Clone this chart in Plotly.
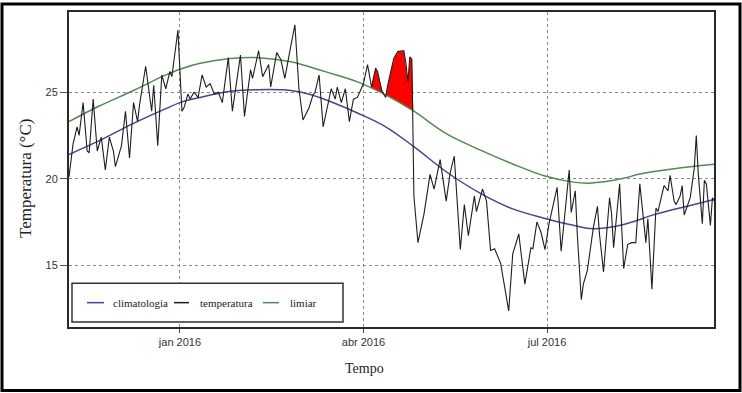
import numpy as np
import pandas as pd
import plotly.graph_objects as go

# ---------------- data (days counted from 2015-11-07) ----------------
inicio = "2015-11-07"

temp_dia = [0, 2, 4, 5, 7, 8, 9, 10, 12, 14, 16, 18, 20, 22, 23, 26, 28, 30, 32, 34,
            35, 38, 41, 42, 44, 46, 48, 50, 51, 54, 56, 57, 59, 60, 62, 64, 66, 68, 70, 72,
            74, 76, 79, 81, 85, 87, 90, 91, 94, 96, 99, 100, 103, 105, 107, 110, 112, 114, 116, 119,
            121, 122, 124, 126, 129, 130, 132, 133, 135, 137, 139, 141, 143, 145, 146, 148, 150, 152, 153, 155,
            157, 158, 161, 163, 166, 167, 168, 169, 170, 171, 173, 176, 179, 181, 184, 187, 189, 191, 194, 196,
            198, 201, 202, 205, 207, 209, 211, 214, 218, 220, 223, 226, 229, 230, 232, 234, 236, 238, 239, 242,
            244, 248, 249, 251, 252, 254, 255, 257, 260, 262, 263, 265, 268, 269, 270, 273, 275, 277, 279, 281,
            283, 286, 287, 289, 291, 292, 295, 297, 298, 300, 301, 303, 304, 305, 308, 310, 311, 312, 314, 315,
            316, 318, 319, 320]
temp_val = [20.1, 22.0, 23.0, 22.5, 24.4, 22.9, 21.6, 21.5, 24.6, 21.6, 22.4, 20.5, 22.4, 21.6, 20.7, 21.9, 23.9, 21.2, 24.4, 23.3,
            24.3, 26.5, 23.9, 25.4, 21.9, 26.0, 25.2, 26.2, 25.9, 28.6, 23.9, 24.1, 24.9, 24.6, 25.0, 24.7, 26.0, 25.3, 25.5, 24.9,
            25.0, 24.4, 27.0, 23.9, 27.15, 23.6, 26.3, 25.8, 27.4, 25.9, 26.6, 25.3, 27.3, 26.9, 25.8, 27.7, 28.9, 25.2, 23.4, 24.1,
            24.85, 25.0, 26.0, 23.0, 24.7, 25.2, 24.6, 25.3, 24.4, 25.2, 23.3, 24.6, 24.7, 25.2, 25.5, 26.6, 25.3, 26.4, 26.2, 25.1,
            24.7, 25.4, 26.95, 27.35, 27.4, 26.7, 25.6, 27.05, 26.9, 19.0, 16.3, 17.95, 20.25, 19.4, 21.1, 18.7, 20.35, 21.3, 15.9, 18.5,
            16.7, 19.0, 18.1, 19.4, 18.7, 15.85, 15.95, 15.1, 12.35, 15.65, 16.8, 13.9, 16.0, 15.95, 17.5, 16.9, 15.9, 17.4, 17.9, 19.5,
            15.8, 20.5, 18.05, 19.3, 16.8, 13.0, 13.9, 14.7, 17.2, 18.4, 16.8, 14.6, 18.9, 17.95, 16.0, 19.7, 14.8, 16.2, 16.3, 16.3,
            19.7, 16.3, 17.7, 13.6, 18.3, 18.1, 19.6, 19.3, 20.2, 18.7, 18.5, 19.0, 19.6, 17.9, 18.9, 20.6, 22.5, 20.25, 17.4, 19.9,
            19.7, 17.3, 18.9, 18.7]

clim_dia = [0, 15, 32, 48, 55, 65, 80, 94, 110, 120, 132, 143, 157, 171, 187, 204, 220, 236, 250, 260, 275, 291, 308, 320]
clim_val = [21.4, 22.2, 23.2, 24.05, 24.4, 24.7, 25.05, 25.15, 25.1, 24.85, 24.35, 23.8, 23.0, 21.85, 20.4, 19.15, 18.25, 17.7,
            17.3, 17.1, 17.35, 17.95, 18.45, 18.8]

limiar_dia = [0, 15, 32, 48, 55, 65, 80, 94, 110, 127, 143, 157, 171, 187, 204, 220, 236, 250, 258, 275, 283, 300, 320]
limiar_val = [23.3, 24.2, 25.1, 26.0, 26.33, 26.67, 26.95, 27.0, 26.76, 26.19, 25.6, 24.85, 23.9, 22.6, 21.65, 20.85, 20.15,
              19.8, 19.74, 20.02, 20.27, 20.57, 20.83]

# heat-wave windows (days from start)
evento_inicio = [150, 157]
evento_fim = [156, 171]

xtick_datas = ["2016-01-01", "2016-04-01", "2016-07-01"]
xtick_rotulos = ["jan 2016", "abr 2016", "jul 2016"]
ytick_vals = [15, 20, 25]

legenda_nomes = ["climatologia", "temperatura", "limiar"]

# ---------------- helpers ----------------
base = pd.Timestamp(inicio)


def to_date(d):
    return base + pd.to_timedelta(np.asarray(d, dtype=float), unit="D")


W, H = 742, 393
L, R, T, B = 69, 714, 10, 327   # plot area in pixels


def px(x):
    return (x - L) / (R - L)


def py(y):
    return (B - y) / (B - T)


COL_CLIM = "#4343a0"
COL_TEMP = "#1e1e1e"
COL_LIM = "#4f8c4f"

fig = go.Figure()

# red fill where temperature exceeds the threshold within the event windows
for a, b in zip(evento_inicio, evento_fim):
    g = np.arange(a, b + 1e-9, 0.02)
    t = np.interp(g, temp_dia, temp_val)
    lim = np.interp(g, limiar_dia, limiar_val)
    up = np.maximum(t, lim)
    xs = np.concatenate([g, g[::-1]])
    ys = np.concatenate([up, lim[::-1]])
    fig.add_trace(go.Scatter(x=to_date(xs), y=ys, mode="lines", fill="toself",
                             fillcolor="#ff0000", line=dict(width=0, color="#ff0000"),
                             hoverinfo="skip", showlegend=False))

fig.add_trace(go.Scatter(x=to_date(clim_dia), y=clim_val, mode="lines", name=legenda_nomes[0],
                         line=dict(color=COL_CLIM, width=1.5, shape="spline", smoothing=1.0),
                         showlegend=False))
fig.add_trace(go.Scatter(x=to_date(limiar_dia), y=limiar_val, mode="lines", name=legenda_nomes[2],
                         line=dict(color=COL_LIM, width=1.5, shape="spline", smoothing=1.0),
                         showlegend=False))
fig.add_trace(go.Scatter(x=to_date(temp_dia), y=temp_val, mode="lines", name=legenda_nomes[1],
                         line=dict(color=COL_TEMP, width=1.1), showlegend=False))

x_end = base + pd.Timedelta(days=(R - L) / 2.017)

fig.update_xaxes(range=[base, x_end], tickvals=pd.to_datetime(xtick_datas), ticktext=xtick_rotulos,
                 showgrid=True, gridcolor="#8a8a8a", griddash="dot", gridwidth=1,
                 showline=True, linecolor="#2a2a2a", linewidth=2, mirror=True,
                 ticks="outside", ticklen=4, tickcolor="#444",
                 tickfont=dict(family="Liberation Sans, Arial", size=11, color="#333"),
                 zeroline=False)
fig.update_yaxes(range=[11.42, 29.64], tickvals=ytick_vals,
                 showgrid=True, gridcolor="#8a8a8a", griddash="dot", gridwidth=1,
                 showline=True, linecolor="#2a2a2a", linewidth=2, mirror=True,
                 ticks="outside", ticklen=7, tickcolor="#555",
                 tickfont=dict(family="Liberation Sans, Arial", size=11, color="#333"),
                 zeroline=False)

shapes = []
annotations = []

# outer frame of the image
shapes.append(dict(type="rect", xref="paper", yref="paper",
                   x0=px(2), x1=px(740), y0=py(391), y1=py(2),
                   line=dict(color="black", width=3), layer="above"))

# legend box
shapes.append(dict(type="rect", xref="paper", yref="paper",
                   x0=px(72), x1=px(343), y0=py(322), y1=py(283),
                   line=dict(color="#333", width=1.5), fillcolor="white", layer="above"))
leg_items = [(87, 104, 111, COL_CLIM), (174, 189, 198, COL_TEMP), (263, 279, 288, COL_LIM)]
for (x0, x1, xt, c), nome in zip(leg_items, legenda_nomes):
    shapes.append(dict(type="line", xref="paper", yref="paper", x0=px(x0), x1=px(x1),
                       y0=py(302.5), y1=py(302.5), line=dict(color=c, width=1.5), layer="above"))
    annotations.append(dict(xref="paper", yref="paper", x=px(xt), y=py(302.5), text=nome,
                            showarrow=False, xanchor="left", yanchor="middle",
                            font=dict(family="Liberation Serif, Times New Roman", size=11, color="#222")))

# axis titles
annotations.append(dict(xref="paper", yref="paper", x=px(364), y=py(369), text="Tempo",
                        showarrow=False, xanchor="center", yanchor="middle",
                        font=dict(family="Liberation Serif, Times New Roman", size=14, color="#222")))
annotations.append(dict(xref="paper", yref="paper", x=px(26), y=py(178), text="Temperatura (°C)",
                        textangle=-90, showarrow=False, xanchor="center", yanchor="middle",
                        font=dict(family="Liberation Serif, Times New Roman", size=17, color="#222")))

fig.update_layout(width=W, height=H, margin=dict(l=L, r=W - R, t=T, b=H - B, pad=0),
                  paper_bgcolor="white", plot_bgcolor="white",
                  shapes=shapes, annotations=annotations, showlegend=False)

fig.write_html("out.html", config={"displayModeBar": False},
               post_script="document.body.style.margin='0px';document.body.style.padding='0px';"
                           "document.body.style.overflow='hidden';")
